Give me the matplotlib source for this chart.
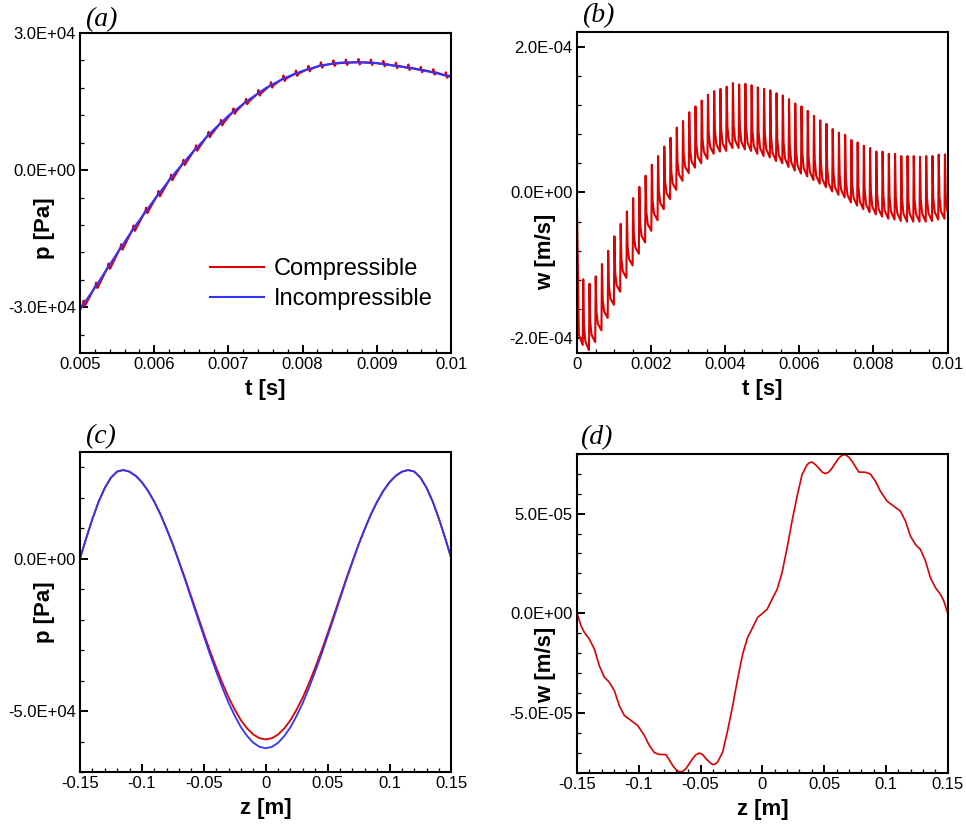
import numpy as np
import matplotlib.pyplot as plt
from matplotlib.ticker import FixedLocator, FixedFormatter, MultipleLocator

plt.rcParams['font.family'] = ['Liberation Sans', 'DejaVu Sans']

RED = '#dd0000'
BLUE = '#3333ff'

# ---------------- (a) pressure history at the probe ----------------
ta = [0.005, 0.00525, 0.0055, 0.00575, 0.006, 0.00625, 0.0065, 0.00675,
      0.007, 0.00725, 0.0075, 0.00775, 0.008, 0.00825, 0.0085, 0.00875,
      0.009, 0.00925, 0.0095, 0.00975, 0.01]
pa_incomp = [-3.05e4, -2.45e4, -1.82e4, -1.21e4, -6.5e3, -1.2e3, 3.6e3, 8.0e3,
             1.19e4, 1.51e4, 1.79e4, 2.01e4, 2.17e4, 2.29e4, 2.35e4, 2.36e4,
             2.34e4, 2.28e4, 2.22e4, 2.14e4, 2.04e4]

# period of the pressure pulses seen in the compressible run
T_PULSE = 1.683e-4
pulse_a = np.arange(30, 60)          # pulse indices falling inside 0.005..0.01
pa_comp = [-2.92e4, -2.53e4, -2.11e4, -1.69e4, -1.28e4, -8.9e3, -5.25e3, -1.7e3,
           1.58e3, 4.73e3, 7.68e3, 1.03e4, 1.28e4, 1.49e4, 1.68e4, 1.855e4,
           2.0e4, 2.11e4, 2.21e4, 2.29e4, 2.33e4, 2.35e4, 2.36e4, 2.35e4,
           2.32e4, 2.28e4, 2.24e4, 2.19e4, 2.14e4, 2.07e4]
pa_comp_ends = [-3.06e4, 2.04e4]
pulse_up, pulse_down = 700.0, -500.0

# ---------------- (b) axial velocity history ----------------
wb_start = [-2.0e-5, -1.95e-4]
wb_peak = [-1.19e-4, -1.25e-4, -1.15e-4, -9.8e-5, -8.0e-5, -6.0e-5, -4.3e-5, -2.6e-5,
           -7.7e-6, 7.8e-6, 2.3e-5, 3.8e-5, 5.0e-5, 6.3e-5, 7.5e-5, 8.9e-5,
           9.8e-5, 1.10e-4, 1.18e-4, 1.26e-4, 1.34e-4, 1.39e-4, 1.42e-4, 1.45e-4,
           1.50e-4, 1.48e-4, 1.49e-4, 1.47e-4, 1.44e-4, 1.42e-4, 1.40e-4, 1.36e-4,
           1.33e-4, 1.28e-4, 1.22e-4, 1.18e-4, 1.12e-4, 1.05e-4, 9.9e-5, 9.4e-5,
           8.7e-5, 8.2e-5, 7.9e-5, 7.2e-5, 6.85e-5, 6.4e-5, 6.1e-5, 5.6e-5,
           5.6e-5, 5.3e-5, 5.3e-5, 5.0e-5, 5.0e-5, 5.0e-5, 4.9e-5, 5.0e-5,
           5.0e-5, 5.2e-5, 5.2e-5]
wb_trough = [-2.09e-4, -2.16e-4, -2.05e-4, -1.89e-4, -1.72e-4, -1.54e-4, -1.36e-4, -1.17e-4,
             -1.0e-4, -8.4e-5, -6.85e-5, -5.25e-5, -3.8e-5, -2.3e-5, -9.1e-6, 3.7e-6,
             1.6e-5, 2.65e-5, 3.4e-5, 4.0e-5, 4.6e-5, 5.3e-5, 5.6e-5, 5.7e-5,
             6.1e-5, 6.1e-5, 5.9e-5, 5.7e-5, 5.3e-5, 5.0e-5, 4.8e-5, 4.3e-5,
             4.0e-5, 3.5e-5, 3.0e-5, 2.6e-5, 2.2e-5, 1.7e-5, 1.2e-5, 7.3e-6,
             1.4e-6, -3.2e-6, -6.8e-6, -1.37e-5, -1.8e-5, -2.3e-5, -2.7e-5, -3.0e-5,
             -3.3e-5, -3.6e-5, -3.7e-5, -3.9e-5, -4.0e-5, -4.0e-5, -4.0e-5, -4.0e-5,
             -3.9e-5, -3.7e-5, -3.6e-5, -3.5e-5]

# ---------------- (c) pressure along the tube ----------------
zc = [-0.15, -0.145, -0.14, -0.135, -0.13, -0.125, -0.12, -0.115, -0.11, -0.105,
      -0.1, -0.095, -0.09, -0.085, -0.08, -0.075, -0.07, -0.065, -0.06, -0.055,
      -0.05, -0.045, -0.04, -0.035, -0.03, -0.025, -0.02, -0.015, -0.01, -0.005,
      0.0, 0.005, 0.01, 0.015, 0.02, 0.025, 0.03, 0.035, 0.04, 0.045,
      0.05, 0.055, 0.06, 0.065, 0.07, 0.075, 0.08, 0.085, 0.09, 0.095,
      0.1, 0.105, 0.11, 0.115, 0.12, 0.125, 0.13, 0.135, 0.14, 0.145, 0.15]
pc_comp = [0.0, 6.7e3, 1.30e4, 1.865e4, 2.32e4, 2.66e4, 2.86e4, 2.91e4, 2.855e4, 2.72e4,
           2.51e4, 2.225e4, 1.87e4, 1.455e4, 9.8e3, 4.7e3, -890, -6.6e3, -1.26e4, -1.86e4,
           -2.45e4, -3.03e4, -3.57e4, -4.08e4, -4.55e4, -4.95e4, -5.30e4, -5.57e4, -5.77e4, -5.89e4,
           -5.93e4, -5.89e4, -5.77e4, -5.57e4, -5.30e4, -4.95e4, -4.55e4, -4.08e4, -3.57e4, -3.03e4,
           -2.45e4, -1.86e4, -1.26e4, -6.6e3, -890, 4.7e3, 9.8e3, 1.455e4, 1.87e4, 2.225e4,
           2.51e4, 2.72e4, 2.855e4, 2.91e4, 2.86e4, 2.66e4, 2.32e4, 1.865e4, 1.30e4, 6.7e3, 0.0]
pc_incomp = [0.0, 6.7e3, 1.30e4, 1.865e4, 2.32e4, 2.66e4, 2.86e4, 2.91e4, 2.855e4, 2.72e4,
             2.51e4, 2.225e4, 1.87e4, 1.455e4, 9.7e3, 4.55e3, -1.19e3, -7.05e3, -1.32e4, -1.935e4,
             -2.54e4, -3.14e4, -3.70e4, -4.235e4, -4.73e4, -5.155e4, -5.53e4, -5.82e4, -6.04e4, -6.175e4,
             -6.22e4, -6.175e4, -6.04e4, -5.82e4, -5.53e4, -5.155e4, -4.73e4, -4.235e4, -3.70e4, -3.14e4,
             -2.54e4, -1.935e4, -1.32e4, -7.05e3, -1.19e3, 4.55e3, 9.7e3, 1.455e4, 1.87e4, 2.225e4,
             2.51e4, 2.72e4, 2.855e4, 2.91e4, 2.86e4, 2.66e4, 2.32e4, 1.865e4, 1.30e4, 6.7e3, 0.0]

# ---------------- (d) axial velocity along the tube ----------------
zd = [-0.15, -0.1468, -0.1441, -0.1401, -0.136, -0.132, -0.1279, -0.1239, -0.1198, -0.1158,
      -0.1117, -0.1063, -0.1009, -0.0955, -0.0915, -0.0874, -0.0834, -0.078, -0.0726, -0.0699,
      -0.0672, -0.0645, -0.0618, -0.0564, -0.0537, -0.051, -0.0483, -0.0456, -0.0424, -0.0402,
      -0.0381, -0.0362, -0.0321, -0.0281, -0.024, -0.02, -0.0159, -0.0119, -0.0078, -0.0038,
      0.0,
      0.0038, 0.0078, 0.0119, 0.0159, 0.02, 0.024, 0.0281, 0.0321, 0.0362, 0.0381,
      0.0402, 0.0424, 0.0456, 0.0483, 0.051, 0.0537, 0.0564, 0.0618, 0.0645, 0.0672,
      0.0699, 0.0726, 0.078, 0.0834, 0.0874, 0.0915, 0.0955, 0.1009, 0.1063, 0.1117,
      0.1158, 0.1198, 0.1239, 0.1279, 0.132, 0.136, 0.1401, 0.1441, 0.1468, 0.15]
wd = [0.0, -6.2e-6, -9.5e-6, -1.28e-5, -1.78e-5, -2.62e-5, -3.2e-5, -3.45e-5, -3.87e-5, -4.62e-5,
      -5.12e-5, -5.37e-5, -5.62e-5, -6.12e-5, -6.62e-5, -6.98e-5, -7.07e-5, -7.08e-5, -7.62e-5, -7.83e-5,
      -7.95e-5, -7.92e-5, -7.78e-5, -7.28e-5, -7.08e-5, -7.0e-5, -7.08e-5, -7.28e-5, -7.48e-5, -7.58e-5,
      -7.55e-5, -7.45e-5, -6.95e-5, -5.87e-5, -4.62e-5, -3.28e-5, -2.03e-5, -1.2e-5, -7.0e-6, -2.0e-6,
      0.0,
      2.0e-6, 7.0e-6, 1.2e-5, 2.03e-5, 3.28e-5, 4.62e-5, 5.87e-5, 6.95e-5, 7.45e-5, 7.55e-5,
      7.58e-5, 7.48e-5, 7.28e-5, 7.08e-5, 7.0e-5, 7.08e-5, 7.28e-5, 7.78e-5, 7.92e-5, 7.95e-5,
      7.83e-5, 7.62e-5, 7.08e-5, 7.07e-5, 6.98e-5, 6.62e-5, 6.12e-5, 5.62e-5, 5.37e-5, 5.12e-5,
      4.62e-5, 3.87e-5, 3.45e-5, 3.2e-5, 2.62e-5, 1.78e-5, 1.28e-5, 9.5e-6, 6.2e-6, 0.0]

z_ticks = [-0.15, -0.1, -0.05, 0, 0.05, 0.1, 0.15]
z_labels = ['-0.15', '-0.1', '-0.05', '0', '0.05', '0.1', '0.15']


def style(ax, xt, xl, xminor, yt, yl, yminor):
    for s in ax.spines.values():
        s.set_linewidth(1.5)
    ax.xaxis.set_major_locator(FixedLocator(xt))
    ax.xaxis.set_major_formatter(FixedFormatter(xl))
    ax.xaxis.set_minor_locator(MultipleLocator(xminor))
    ax.yaxis.set_major_locator(FixedLocator(yt))
    ax.yaxis.set_major_formatter(FixedFormatter(yl))
    ax.yaxis.set_minor_locator(MultipleLocator(yminor))
    ax.tick_params(which='both', direction='in', top=False, right=False,
                   labelsize=12, pad=3)
    ax.tick_params(which='major', length=6, width=1.4)
    ax.tick_params(which='minor', length=3, width=0.9)


def labels(ax, xlab, ylab, ylab_pos):
    ax.set_xlabel(xlab, fontsize=16, fontweight='bold')
    ax.set_ylabel(ylab, fontsize=16, fontweight='bold')
    ax.xaxis.set_label_coords(0.5, -0.08)
    ax.yaxis.set_label_coords(*ylab_pos)


fig = plt.figure(figsize=(9.66, 8.24), dpi=100)
ax_a = fig.add_axes([0.0828, 0.5716, 0.3841, 0.3884])
ax_b = fig.add_axes([0.5973, 0.5716, 0.3836, 0.3896])
ax_c = fig.add_axes([0.0828, 0.0631, 0.3845, 0.3883])
ax_d = fig.add_axes([0.5973, 0.0619, 0.3838, 0.3875])

# (a) compressible line: smooth trend with a small kick at every pulse
tca, pca = [ta[0]], [pa_comp_ends[0]]
for k, p in zip(pulse_a, pa_comp):
    tk = k * T_PULSE
    tca += [tk - 0.05 * T_PULSE, tk, tk + 0.1 * T_PULSE, tk + 0.2 * T_PULSE]
    pca += [p, p + pulse_up, p + pulse_down, p]
tca.append(ta[-1])
pca.append(pa_comp_ends[1])
ax_a.plot(tca, pca, color=RED, lw=1.5, label='Compressible')
ax_a.plot(ta, pa_incomp, color=BLUE, lw=1.5, label='Incompressible')
ax_a.set_xlim(0.005, 0.01)
ax_a.set_ylim(-4.0e4, 3.0e4)
style(ax_a, [0.005, 0.006, 0.007, 0.008, 0.009, 0.01],
      ['0.005', '0.006', '0.007', '0.008', '0.009', '0.01'], 0.0002,
      [-3e4, 0, 3e4], ['-3.0E+04', '0.0E+00', '3.0E+04'], 6000)
labels(ax_a, 't [s]', 'p [Pa]', (-0.067, 0.39))
ax_a.legend(loc='upper left', bbox_to_anchor=(0.35, 0.296), frameon=False,
            fontsize=17, handlelength=2.3, handletextpad=0.4,
            labelspacing=0.33, borderpad=0, borderaxespad=0)

# (b) sawtooth-like velocity signal, one pulse per period
tb = [0.0, 0.3 * T_PULSE]
wb = list(wb_start)
for k in range(len(wb_peak)):
    tk = (k + 1) * T_PULSE
    nxt = wb_trough[k + 1]
    span = wb_peak[k] - nxt
    tb += [tk - 0.08 * T_PULSE, tk, tk + 0.12 * T_PULSE, tk + 0.35 * T_PULSE]
    wb += [wb_trough[k], wb_peak[k], nxt + 0.35 * span, nxt + 0.12 * span]
tb.append((len(wb_peak) + 1) * T_PULSE - 0.08 * T_PULSE)
wb.append(wb_trough[-1])
ax_b.plot(tb, wb, color=RED, lw=1.5)
ax_b.set_xlim(0, 0.01)
ax_b.set_ylim(-2.2e-4, 2.2e-4)
style(ax_b, [0, 0.002, 0.004, 0.006, 0.008, 0.01],
      ['0', '0.002', '0.004', '0.006', '0.008', '0.01'], 0.0005,
      [-2e-4, 0, 2e-4], ['-2.0E-04', '0.0E+00', '2.0E-04'], 4e-5)
labels(ax_b, 't [s]', 'w [m/s]', (-0.057, 0.315))

# (c)
ax_c.plot(zc, pc_comp, color=RED, lw=1.3)
ax_c.plot(zc, pc_incomp, color=BLUE, lw=1.3)
ax_c.set_xlim(-0.15, 0.15)
ax_c.set_ylim(-7.0e4, 3.5e4)
style(ax_c, z_ticks, z_labels, 0.01, [-5e4, 0], ['-5.0E+04', '0.0E+00'], 1e4)
labels(ax_c, 'z [m]', 'p [Pa]', (-0.067, 0.5))

# (d)
ax_d.plot(zd, wd, color=RED, lw=1.2)
ax_d.set_xlim(-0.15, 0.15)
ax_d.set_ylim(-8e-5, 8e-5)
style(ax_d, z_ticks, z_labels, 0.01, [-5e-5, 0, 5e-5],
      ['-5.0E-05', '0.0E+00', '5.0E-05'], 1e-5)
labels(ax_d, 'z [m]', 'w [m/s]', (-0.057, 0.34))

for x, y, s in [(85, 20, '(a)'), (582, 16, '(b)'), (85, 437, '(c)'), (580, 438, '(d)')]:
    fig.text(x / 966, 1 - y / 824, s, fontsize=20, style='italic',
             family='Liberation Serif', va='center', ha='left')

fig.savefig('out.png', dpi=100)
